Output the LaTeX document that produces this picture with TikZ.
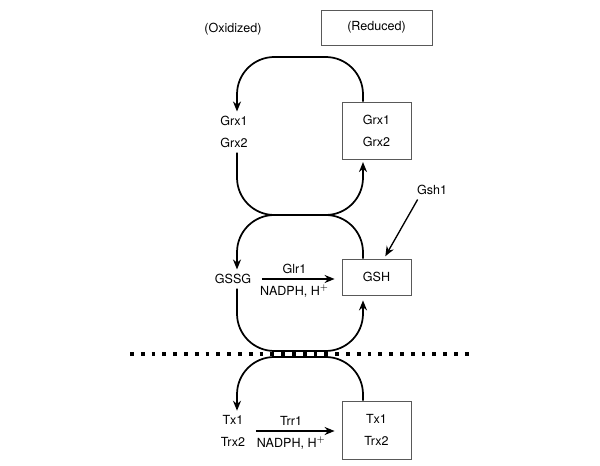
\documentclass[tikz,border=0pt]{standalone}
\usepackage{fontspec}
\setmainfont{TeX Gyre Heros}
\usetikzlibrary{arrows.meta}

\tikzset{
  box/.style={draw=black!65, line width=0.6pt, minimum width=51.75pt, inner sep=0pt},
  redox/.style={line width=1.3pt, rounded corners=28pt, -{Stealth[length=7.5pt,width=6pt]}},
  rxn/.style={line width=1.3pt, -{Stealth[length=7.5pt,width=6pt]}},
  sep/.style={line width=3pt, dash pattern=on 2.85pt off 5.25pt},
}

\begin{document}
\begin{tikzpicture}[x=0.75pt, y=-0.75pt, font=\fontsize{9.4}{16.5}\selectfont, every node/.style={align=center}]
\useasboundingbox (0,0) rectangle (600,466);

% stati
\node (oxi) at (233,29) {(Oxidized)};
\node[box, minimum width=83.25pt, minimum height=26.25pt] (red) at (376.5,27.5) {(Reduced)};

% glutaredossine
\node (grxO) at (234,132) {Grx1\\Grx2};
\node[box, minimum height=42.75pt] (grxR) at (376.5,130.5) {Grx1\\Grx2};

% glutatione
\node (gssg) at (233,279) {GSSG};
\node[box, minimum height=27pt] (gsh) at (376.5,277) {GSH};
\node (gsh1) at (432,190) {Gsh1};

% tioredossine
\node (txO) at (233,431) {Tx1\\Trx2};
\node[box, minimum height=43.5pt] (txR) at (376.5,430) {Tx1\\Trx2};

% colonne e livelli dei cicli
\coordinate (colL) at (237,0);
\coordinate (colR) at (363,0);
\coordinate (top) at (300,57);
\coordinate (mid) at (300,215);
\coordinate (lowA) at (300,351);
\coordinate (lowB) at (300,357);
\coordinate (sepL) at (130,354);
\coordinate (sepR) at (472,354);

\draw[sep] (sepL) -- (sepR);

\draw[redox] (grxR.north -| colR) -- (colR |- top) -- (colL |- top) -- (grxO.north -| colL);
\draw[redox, shorten >=2pt] (grxO.south -| colL) -- (colL |- mid) -- (colR |- mid) -- (grxR.south -| colR);
\draw[redox] (gsh.north -| colR) -- (colR |- mid) -- (colL |- mid) -- (gssg.north -| colL);
\draw[redox, shorten >=3.75pt] (gssg.south -| colL) -- (colL |- lowA) -- (colR |- lowA) -- (gsh.south -| colR);
\draw[redox] (txR.north -| colR) -- (colR |- lowB) -- (colL |- lowB) -- (txO.north -| colL);

\draw[rxn, shorten <=4.5pt, shorten >=5.25pt] (gssg.east) -- (gssg.east -| gsh.west)
  node[pos=0.45, above] (glr1) {Glr1} node[pos=0.45, below] (nadphA) {NADPH, H$^{+}$};
\draw[rxn, shorten <=4.5pt, shorten >=5.25pt] (txO.east) -- (txO.east -| txR.west)
  node[pos=0.45, above] (trr1) {Trr1} node[pos=0.45, below] (nadphB) {NADPH, H$^{+}$};

\draw[line width=1pt, -{Stealth[length=7.5pt,width=6pt]}, shorten >=2pt] ([xshift=4pt]gsh1.south west) -- ([xshift=5.6pt]gsh.north);

\end{tikzpicture}
\end{document}
